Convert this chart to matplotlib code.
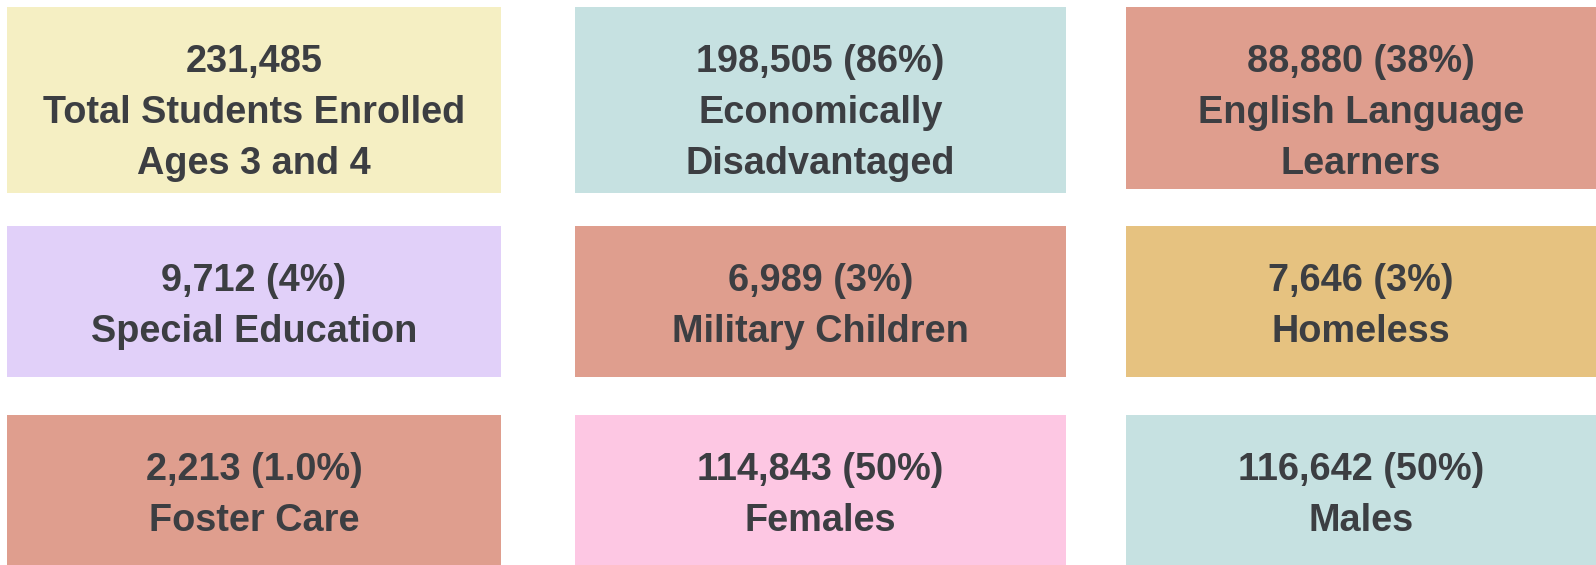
import matplotlib.pyplot as plt
from matplotlib.patches import Rectangle

# Datos de las tarjetas (fila por fila)
counts = ["231,485", "198,505", "88,880", "9,712", "6,989", "7,646", "2,213", "114,843", "116,642"]
percents = [None, "86%", "38%", "4%", "3%", "3%", "1.0%", "50%", "50%"]
labels = [
    ["Total Students Enrolled", "Ages 3 and 4"],
    ["Economically", "Disadvantaged"],
    ["English Language", "Learners"],
    ["Special Education"],
    ["Military Children"],
    ["Homeless"],
    ["Foster Care"],
    ["Females"],
    ["Males"],
]
colors = ["#F5EFC3", "#C6E1E1", "#DF9E8E",
          "#E1D0F9", "#DF9E8E", "#E6C280",
          "#DF9E8E", "#FDC7E3", "#C6E1E1"]

W, H = 1596, 565
fig = plt.figure(figsize=(W / 100, H / 100), dpi=100)
ax = fig.add_axes([0, 0, 1, 1])
ax.set_xlim(0, W)
ax.set_ylim(H, 0)
ax.axis("off")

# Posiciones de las columnas y filas (en pixeles)
cols = [(7, 501), (575, 1066), (1126, 1600)]
rows = [(7, 193), (226, 377), (415, 570)]
row1_col3_bottom = 189

text_color = "#3c3e42"
for i in range(9):
    r, c = divmod(i, 3)
    x0, x1 = cols[c]
    y0, y1 = rows[r]
    if r == 0 and c == 2:
        y1 = row1_col3_bottom
    ax.add_patch(Rectangle((x0, y0), x1 - x0, y1 - y0, facecolor=colors[i],
                           edgecolor="none"))
    head = counts[i] if percents[i] is None else f"{counts[i]} ({percents[i]})"
    lines = [head] + labels[i]
    xc = (x0 + min(x1, W)) / 2
    for k, line in enumerate(lines):
        ax.text(xc, y0 + 55 + 51 * k, line, ha="center", va="center",
                fontsize=27.3, fontweight="bold", color=text_color,
                family="Liberation Sans")

fig.savefig("out.png", dpi=100)
plt.close()
